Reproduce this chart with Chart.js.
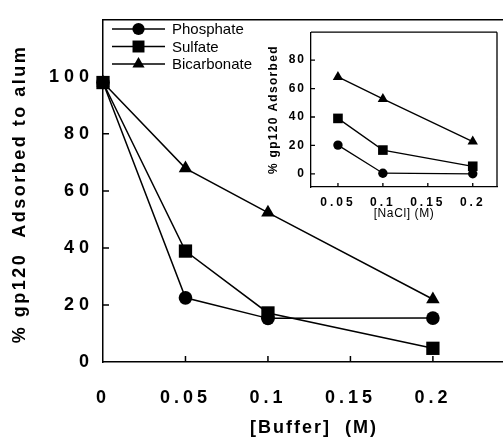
<!DOCTYPE html>
<html>
<head>
<meta charset="utf-8">
<script src="https://cdn.jsdelivr.net/npm/chart.js@4/dist/chart.umd.min.js"></script>
<style>
  html, body { margin: 0; padding: 0; background: #fff; }
  #wrap { position: relative; width: 503px; height: 437px; overflow: hidden; background: #fff; }
  #main { position: absolute; left: 0; top: 0; }
  #inset { position: absolute; left: 255px; top: 20px; }
</style>
</head>
<body>
<div id="wrap">
  <canvas id="main" width="503" height="437"></canvas>
  <canvas id="inset" width="248" height="210"></canvas>
</div>
<script>
// Main panel: adsorption versus buffer concentration
const seriesNames = ['Phosphate', 'Sulfate', 'Bicarbonate'];
const bufferConc = [0, 0.05, 0.1, 0.2];
const phosphateBuffer = [98, 22.5, 15.3, 15.4];
const sulfateBuffer = [98, 38.9, 17.2, 4.8];
const bicarbonateBuffer = [98, 67.9, 52.4, 22];
const bufferTicks = [0, 0.05, 0.1, 0.15, 0.2];
const bufferTickLabels = ['0', '0.05', '0.1', '0.15', '0.2'];
const adsorbedTicks = [0, 20, 40, 60, 80, 100];
const adsorbedTickLabels = ['0', '20', '40', '60', '80', '100'];

// Inset: adsorption versus NaCl concentration
const naclConc = [0.05, 0.1, 0.2];
const phosphateNaCl = [20.2, 0.4, 0];
const sulfateNaCl = [39, 16.7, 5.3];
const bicarbonateNaCl = [68.2, 52.7, 22.7];
const naclTicks = [0.05, 0.1, 0.15, 0.2];
const naclTickLabels = ['0.05', '0.1', '0.15', '0.2'];
const insetTicks = [0, 20, 40, 60, 80];
const insetTickLabels = ['0', '20', '40', '60', '80'];

const FONT = '"Liberation Sans", Arial, Helvetica, sans-serif';
const INK = '#000';

const pts = (xs, ys) => xs.map((x, i) => ({ x: x, y: ys[i] }));

function lineSet(label, data, style, radius, width, order) {
  return {
    label: label, data: data, order: order,
    borderColor: INK, backgroundColor: INK,
    pointBackgroundColor: INK, pointBorderColor: INK, pointBorderWidth: 0,
    pointStyle: style, pointRadius: radius, pointHoverRadius: radius,
    borderWidth: width, tension: 0, fill: false, clip: false
  };
}

// Per-scale letter spacing for tick labels and titles
const spacingPlugin = {
  id: 'spacing',
  beforeDraw(chart, args, opts) {
    const ctx = chart.ctx;
    Object.values(chart.scales).forEach(scale => {
      const conf = (opts.scales || {})[scale.id];
      if (!conf || scale._spaced) return;
      scale._spaced = true;
      const lab = scale.drawLabels, tit = scale.drawTitle;
      scale.drawLabels = function (a) {
        ctx.save(); ctx.letterSpacing = conf.ticks + 'px'; lab.call(this, a); ctx.restore();
      };
      scale.drawTitle = function (a) {
        ctx.save();
        ctx.letterSpacing = conf.title + 'px';
        // optional sideways nudge of the title along its axis
        if (conf.shift) {
          if (this.isHorizontal()) ctx.translate(conf.shift, 0);
          else ctx.translate(0, conf.shift);
        }
        tit.call(this, a);
        ctx.restore();
      };
    });
  }
};

// Short tick marks pointing into the plot, plus frame edges
const framePlugin = {
  id: 'frame',
  afterDraw(chart, args, opts) {
    const ctx = chart.ctx, a = chart.chartArea;
    ctx.save();
    ctx.strokeStyle = INK;
    ctx.lineWidth = opts.width;
    ctx.beginPath();
    ctx.moveTo(a.left, a.top); ctx.lineTo(a.right, a.top);
    if (opts.right) { ctx.moveTo(a.right, a.top); ctx.lineTo(a.right, a.bottom); }
    const xs = chart.scales.x, ys = chart.scales.y;
    xs.ticks.forEach(t => {
      const px = xs.getPixelForValue(t.value);
      if (Math.abs(px - a.left) < 1) return;
      ctx.moveTo(px, a.bottom); ctx.lineTo(px, a.bottom - opts.len);
    });
    ys.ticks.forEach(t => {
      const py = ys.getPixelForValue(t.value);
      if (Math.abs(py - a.bottom) < 1) return;
      ctx.moveTo(a.left, py); ctx.lineTo(a.left + opts.len, py);
    });
    ctx.stroke();
    ctx.restore();
  }
};

function marker(ctx, style, radius, x, y) {
  const opts = { pointStyle: style, radius: radius, rotation: 0, borderWidth: 0 };
  ctx.fillStyle = INK; ctx.strokeStyle = INK;
  if (window.Chart && Chart.helpers && Chart.helpers.drawPoint) {
    Chart.helpers.drawPoint(ctx, opts, x, y);
  } else {
    ctx.beginPath(); ctx.arc(x, y, radius, 0, Math.PI * 2); ctx.fill();
  }
}

// Legend in the upper left of the plot: line sample with marker, then name
const legendPlugin = {
  id: 'innerLegend',
  afterDraw(chart, args, opts) {
    const ctx = chart.ctx;
    ctx.save();
    chart.data.datasets.forEach((ds, i) => {
      const y = opts.rows[i];
      ctx.strokeStyle = INK; ctx.lineWidth = 1.3;
      ctx.beginPath(); ctx.moveTo(opts.x0, y); ctx.lineTo(opts.x1, y); ctx.stroke();
      marker(ctx, ds.pointStyle, ds.pointRadius * 0.9, (opts.x0 + opts.x1) / 2, y);
      ctx.fillStyle = INK;
      ctx.font = '15px ' + FONT;
      ctx.textBaseline = 'middle';
      ctx.textAlign = 'left';
      ctx.fillText(ds.label, opts.tx, y + 1);
    });
    ctx.restore();
  }
};

Chart.defaults.animation = false;
Chart.defaults.color = INK;

new Chart(document.getElementById('main'), {
  type: 'line',
  data: {
    datasets: [
      lineSet(seriesNames[0], pts(bufferConc, phosphateBuffer), 'circle', 6.8, 1.5, 1),
      lineSet(seriesNames[1], pts(bufferConc, sulfateBuffer), 'rect', 9.4, 1.5, 0),
      lineSet(seriesNames[2], pts(bufferConc, bicarbonateBuffer), 'triangle', 7.8, 1.5, 2)
    ]
  },
  options: {
    responsive: false,
    devicePixelRatio: 1,
    events: [],
    layout: { padding: { top: 14, right: 0, left: 0, bottom: 0 }, autoPadding: false },
    plugins: {
      legend: { display: false },
      tooltip: { enabled: false },
      spacing: { scales: { x: { ticks: 4, title: 2, shift: 11 }, y: { ticks: 5, title: 2.5, shift: 3 } } },
      frame: { width: 1.5, len: 6, right: false },
      innerLegend: { x0: 112, x1: 165, tx: 172, rows: [29, 46.5, 64] }
    },
    scales: {
      x: {
        type: 'linear', min: 0, max: 0.2425,
        afterBuildTicks: s => { s.ticks = bufferTicks.map(v => ({ value: v })); },
        afterFit: s => { s.height = 75; },
        grid: { display: false, drawTicks: false },
        border: { display: true, color: INK, width: 1.5 },
        ticks: {
          autoSkip: false, maxRotation: 0, padding: 25, color: INK,
          font: { family: FONT, size: 18, weight: 'bold' },
          callback: (v, i) => bufferTickLabels[i]
        },
        title: {
          display: true, text: '[Buffer]  (M)', color: INK, padding: 0,
          font: { family: FONT, size: 18, weight: 'bold', lineHeight: 1 }
        }
      },
      y: {
        type: 'linear', min: 0, max: 120,
        afterBuildTicks: s => { s.ticks = adsorbedTicks.map(v => ({ value: v })); },
        afterFit: s => { s.width = 103; },
        grid: { display: false, drawTicks: false },
        border: { display: true, color: INK, width: 1.5 },
        ticks: {
          padding: 9, color: INK,
          font: { family: FONT, size: 18, weight: 'bold' },
          callback: (v, i) => adsorbedTickLabels[i]
        },
        title: {
          display: true, text: '% gp120  Adsorbed to alum', color: INK,
          padding: { top: 9, bottom: 0 },
          font: { family: FONT, size: 18, weight: 'bold', lineHeight: 1.2 }
        }
      }
    }
  },
  plugins: [spacingPlugin, framePlugin, legendPlugin]
});

new Chart(document.getElementById('inset'), {
  type: 'line',
  data: {
    datasets: [
      lineSet(seriesNames[0], pts(naclConc, phosphateNaCl), 'circle', 4.7, 1.3, 1),
      lineSet(seriesNames[1], pts(naclConc, sulfateNaCl), 'rect', 6.8, 1.3, 0),
      lineSet(seriesNames[2], pts(naclConc, bicarbonateNaCl), 'triangle', 6, 1.3, 2)
    ]
  },
  options: {
    responsive: false,
    devicePixelRatio: 1,
    events: [],
    layout: { padding: { top: 10, right: 6, left: 0, bottom: 0 }, autoPadding: false },
    plugins: {
      legend: { display: false },
      tooltip: { enabled: false },
      spacing: { scales: { x: { ticks: 3, title: 0.6 }, y: { ticks: 2, title: 1.3 } } },
      frame: { width: 1.3, len: 4, right: true }
    },
    scales: {
      x: {
        type: 'linear', min: 0.02, max: 0.227,
        afterBuildTicks: s => { s.ticks = naclTicks.map(v => ({ value: v })); },
        afterFit: s => { s.height = 43; },
        grid: { display: false, drawTicks: false },
        border: { display: true, color: INK, width: 1.3 },
        ticks: {
          autoSkip: false, maxRotation: 0, padding: 8, color: INK,
          font: { family: FONT, size: 12, weight: 'bold' },
          callback: (v, i) => naclTickLabels[i]
        },
        title: {
          display: true, text: '[NaCl] (M)', color: INK, padding: { top: 0, bottom: 9 },
          font: { family: FONT, size: 12, lineHeight: 1.2 }
        }
      },
      y: {
        type: 'linear', min: -9.3, max: 99.7,
        afterBuildTicks: s => { s.ticks = insetTicks.map(v => ({ value: v })); },
        afterFit: s => { s.width = 56; },
        grid: { display: false, drawTicks: false },
        border: { display: true, color: INK, width: 1.3 },
        ticks: {
          padding: 5, color: INK,
          font: { family: FONT, size: 12, weight: 'bold' },
          callback: (v, i) => insetTickLabels[i]
        },
        title: {
          display: true, text: '% gp120 Adsorbed', color: INK,
          padding: { top: 11, bottom: 0 },
          font: { family: FONT, size: 12, weight: 'bold', lineHeight: 1.2 }
        }
      }
    }
  },
  plugins: [spacingPlugin, framePlugin]
});
</script>
</body>
</html>
